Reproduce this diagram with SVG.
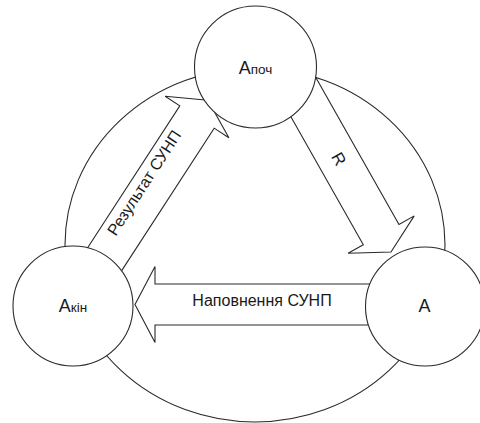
<svg xmlns="http://www.w3.org/2000/svg" width="480" height="423" viewBox="0 0 480 423">
<style>
.ln{fill:none;stroke:#2a2a2a;stroke-width:1.1}
.arr{fill:#fff;stroke:#2a2a2a;stroke-width:1.1;stroke-linejoin:miter}
.nd{fill:#fff;stroke:#2a2a2a;stroke-width:1.1}
text{font-family:"Liberation Sans",Arial,sans-serif;fill:#1a1a1a}
.lbl{font-size:16px;text-anchor:middle}
.big{font-size:18px}
.sub{font-size:13.5px}
</style>
<rect width="480" height="423" fill="#fff"/>
<g id="connectors">
<ellipse id="cycle" class="ln" cx="255" cy="245" rx="190" ry="177"/>
<g id="arrow-rezultat">
<path class="arr" transform="translate(207.9,100.2) rotate(-57)" d="M0,0 L-20,-38 L-20,-20.5 L-220,-20.5 L-220,20.5 L-20,20.5 L-20,38 Z"/>
<text class="lbl" transform="translate(151.3,187.4) rotate(-57)" x="0" y="-3">Результат СУНП</text>
</g>
<g id="arrow-r">
<path class="arr" transform="translate(391,252) rotate(60.5)" d="M0,0 L-20,-38 L-20,-20.5 L-205,-20.5 L-205,20.5 L-20,20.5 L-20,38 Z"/>
<text class="lbl" style="font-size:17px" transform="translate(339,159) rotate(60.5)" x="0" y="6">R</text>
</g>
<g id="arrow-napovnennia">
<path class="arr" transform="translate(135,304.5) rotate(180)" d="M0,0 L-20,-38 L-20,-20.5 L-290,-20.5 L-290,20.5 L-20,20.5 L-20,38 Z"/>
<text class="lbl" x="262" y="305.5">Наповнення СУНП</text>
</g>
</g>
<g id="node-apoch">
<circle class="nd" cx="255.5" cy="67" r="61"/>
<text x="255.5" y="73.5" text-anchor="middle"><tspan class="big">А</tspan><tspan class="sub">поч</tspan></text>
</g>
<g id="node-akin">
<circle class="nd" cx="73" cy="306" r="60"/>
<text x="73" y="311.5" text-anchor="middle"><tspan class="big">А</tspan><tspan class="sub">кін</tspan></text>
</g>
<g id="node-a">
<circle class="nd" cx="425" cy="306.5" r="59.5"/>
<text class="big" x="424.5" y="311.5" text-anchor="middle">A</text>
</g>
</svg>
